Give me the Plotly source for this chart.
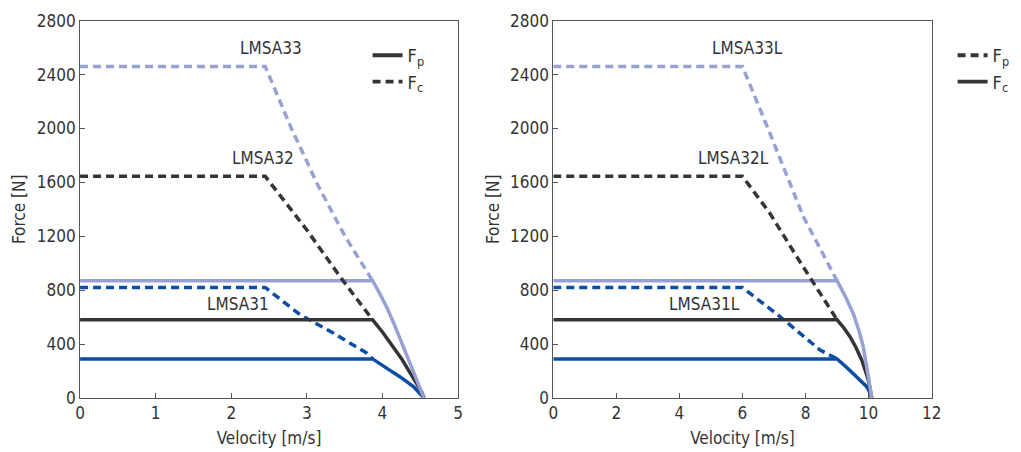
import plotly.graph_objects as go

# ---- data -------------------------------------------------------------
# Left chart: LMSA31 / LMSA32 / LMSA33 (velocity m/s, force N)
l33_fc_v = [0, 2.45, 2.8, 3.15, 3.5, 3.87]
l33_fc_f = [2460, 2460, 1995, 1575, 1205, 870]
l33_fp_v = [0, 3.87, 3.96, 4.06, 4.15, 4.23, 4.32, 4.41, 4.48, 4.55]
l33_fp_f = [870, 870, 780, 670, 555, 445, 315, 185, 85, 0]

l32_fc_v = [0, 2.45, 3.0, 3.44, 3.87]
l32_fc_f = [1645, 1645, 1247, 900, 580]
l32_fp_v = [0, 3.87, 4.0, 4.14, 4.26, 4.37, 4.45, 4.52, 4.55]
l32_fp_f = [580, 580, 490, 381, 285, 183, 110, 45, 0]

l31_fc_v = [0, 2.45, 2.91, 3.35, 3.79, 3.87]
l31_fc_f = [820, 820, 618, 482, 334, 290]
l31_fp_v = [0, 3.87, 4.06, 4.23, 4.41, 4.55]
l31_fp_f = [290, 290, 220, 158, 84, 0]

# Right chart: LMSA31L / LMSA32L / LMSA33L
r33_fc_v = [0, 6.0, 6.87, 7.93, 9.0]
r33_fc_f = [2460, 2460, 1965, 1346, 870]
r33_fp_v = [0, 9.0, 9.25, 9.51, 9.7, 9.83, 9.97, 10.1]
r33_fp_f = [870, 870, 760, 629, 495, 381, 190, 0]

r32_fc_v = [0, 6.0, 6.87, 7.72, 9.0]
r32_fc_f = [1645, 1645, 1371, 1049, 580]
r32_fp_v = [0, 9.0, 9.2, 9.41, 9.6, 9.78, 9.9, 9.99, 10.05, 10.1]
r32_fp_f = [580, 580, 525, 455, 375, 282, 200, 134, 65, 0]

r31_fc_v = [0, 6.0, 7.19, 8.46, 9.0]
r31_fc_f = [820, 820, 604, 356, 290]
r31_fp_v = [0, 9.0, 9.3, 9.62, 9.94, 10.03, 10.1]
r31_fp_f = [290, 290, 228, 158, 84, 45, 0]

left_labels = ["LMSA33", "LMSA32", "LMSA31"]
right_labels = ["LMSA33L", "LMSA32L", "LMSA31L"]
label_pos_left = [(2.52, 2600), (2.42, 1780), (2.09, 700)]
label_pos_right = [(6.15, 2600), (5.7, 1780), (4.8, 700)]

y_ticks = [0, 400, 800, 1200, 1600, 2000, 2400, 2800]

# ---- style ------------------------------------------------------------
LIGHT = "#97a1d2"
DARK = "#353538"
BLUE = "#0c4ea3"
TEXT = "#333333"
AXIS = "#555555"
FONT = "DejaVu Sans Condensed, Liberation Sans Narrow, Roboto, sans-serif"
LW = 3.5
FS = 17
DASH = "8px,5px"

fig = go.Figure()


def add(v, f, color, dash, xa, ya):
    fig.add_trace(go.Scatter(
        x=v, y=f, mode="lines", xaxis=xa, yaxis=ya, showlegend=False,
        line=dict(color=color, width=LW, dash=dash), hoverinfo="skip"))


# left
add(l31_fp_v, l31_fp_f, BLUE, "solid", "x", "y")
add(l31_fc_v, l31_fc_f, BLUE, DASH, "x", "y")
add(l32_fp_v, l32_fp_f, DARK, "solid", "x", "y")
add(l33_fp_v, l33_fp_f, LIGHT, "solid", "x", "y")
add(l32_fc_v, l32_fc_f, DARK, DASH, "x", "y")
add(l33_fc_v, l33_fc_f, LIGHT, DASH, "x", "y")
# right
add(r31_fp_v, r31_fp_f, BLUE, "solid", "x2", "y2")
add(r31_fc_v, r31_fc_f, BLUE, DASH, "x2", "y2")
add(r32_fp_v, r32_fp_f, DARK, "solid", "x2", "y2")
add(r33_fp_v, r33_fp_f, LIGHT, "solid", "x2", "y2")
add(r32_fc_v, r32_fc_f, DARK, DASH, "x2", "y2")
add(r33_fc_v, r33_fc_f, LIGHT, DASH, "x2", "y2")

# legend entries
for name, dash, leg in [("F<sub>p</sub>", "solid", "legend"),
                        ("F<sub>c</sub>", DASH, "legend"),
                        ("F<sub>p</sub>", DASH, "legend2"),
                        ("F<sub>c</sub>", "solid", "legend2")]:
    fig.add_trace(go.Scatter(
        x=[None], y=[None], mode="lines", name=name, legend=leg,
        xaxis="x", yaxis="y",
        line=dict(color=DARK, width=LW + 0.4, dash=dash)))

annotations = []
for (x, y), t in zip(label_pos_left, left_labels):
    annotations.append(dict(x=x, y=y, xref="x", yref="y", text=t,
                            showarrow=False, font=dict(size=FS, color=TEXT)))
for (x, y), t in zip(label_pos_right, right_labels):
    annotations.append(dict(x=x, y=y, xref="x2", yref="y2", text=t,
                            showarrow=False, font=dict(size=FS, color=TEXT)))

axis_common = dict(showline=True, mirror=True, linecolor=AXIS, linewidth=1,
                   ticks="inside", ticklen=5, tickcolor=AXIS, showgrid=False,
                   zeroline=False, automargin=False,
                   tickfont=dict(size=FS, color=TEXT),
                   title_font=dict(size=FS, color=TEXT))

ydom = [0.1195, 0.9542]
fig.update_layout(
    width=1021, height=452,
    margin=dict(l=0, r=0, t=0, b=0, autoexpand=False),
    paper_bgcolor="white", plot_bgcolor="white",
    font=dict(family=FONT, color=TEXT, size=FS),
    xaxis=dict(domain=[0.0784, 0.4486], range=[0, 5], dtick=1,
               title=dict(text="Velocity [m/s]", standoff=9), anchor="y", **axis_common),
    yaxis=dict(domain=ydom, range=[0, 2800], tickvals=y_ticks,
               title=dict(text="Force [N]", standoff=6), anchor="x", **axis_common),
    xaxis2=dict(domain=[0.5419, 0.9125], range=[0, 12], dtick=2,
                title=dict(text="Velocity [m/s]", standoff=9), anchor="y2", **axis_common),
    yaxis2=dict(domain=ydom, range=[0, 2800], tickvals=y_ticks,
                title=dict(text="Force [N]", standoff=6), anchor="x2", **axis_common),
    legend=dict(x=0.36, y=0.918, xanchor="left", yanchor="top",
                bgcolor="rgba(0,0,0,0)", font=dict(size=FS + 1, color=TEXT),
                tracegroupgap=0, itemwidth=30),
    legend2=dict(x=0.933, y=0.918, xanchor="left", yanchor="top",
                 bgcolor="rgba(0,0,0,0)", font=dict(size=FS + 1, color=TEXT),
                 tracegroupgap=0, itemwidth=30),
    annotations=annotations,
)

fig.write_html("out.html")
